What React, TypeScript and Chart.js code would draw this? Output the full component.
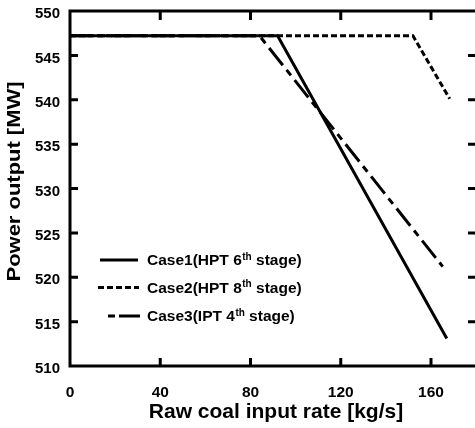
import React, { useEffect, useRef } from 'react';
import { Chart, registerables } from 'chart.js';

Chart.register(...registerables);

const FONT = '"Liberation Sans", Arial, Helvetica, sans-serif';

// Axis ranges and ticks
const xMin = 0;
const xMax = 179.5;
const yMin = 510;
const yMax = 550;
const xTickValues = [0, 40, 80, 120, 160];
const yTickValues = [510, 515, 520, 525, 530, 535, 540, 545, 550];

// Series (raw coal input rate [kg/s] -> power output [MW])
const case1X = [0, 92, 167];
const case1Y = [547.2, 547.2, 513.1];
const case2X = [0, 152, 168.3];
const case2Y = [547.2, 547.2, 540.1];
const case3X = [0, 84, 165.2];
const case3Y = [547.2, 547.2, 521.2];

// Legend text pieces (with superscript)
const seriesLabels = ['Case1(HPT 6th stage)', 'Case2(HPT 8th stage)', 'Case3(IPT 4th stage)'];
const legendMain = ['Case1(HPT 6', 'Case2(HPT 8', 'Case3(IPT 4'];
const legendSup = ['th', 'th', 'th'];
const legendTail = [' stage)', ' stage)', ' stage)'];

const xTitle = 'Raw coal input rate [kg/s]';
const yTitle = 'Power output [MW]';

const toPoints = (xs: number[], ys: number[]) => xs.map((x, i) => ({ x, y: ys[i] }));

const framePlugin = {
  id: 'framePlugin',
  afterDatasetsDraw(chart: any) {
    const { ctx, chartArea: a, scales } = chart;
    const xs = scales.x;
    const ys = scales.y;
    ctx.save();
    ctx.strokeStyle = '#000';
    ctx.lineWidth = 3;
    ctx.lineCap = 'butt';
    ctx.setLineDash([]);
    ctx.beginPath();
    ctx.moveTo(a.left, a.top - 1.5);
    ctx.lineTo(a.left, a.bottom + 1.5);
    ctx.moveTo(a.left - 1.5, a.top);
    ctx.lineTo(a.right + 2, a.top);
    ctx.moveTo(a.left - 1.5, a.bottom);
    ctx.lineTo(a.right + 2, a.bottom);
    ctx.stroke();

    ctx.beginPath();
    for (const v of yTickValues) {
      if (v === yMin || v === yMax) continue;
      const py = ys.getPixelForValue(v);
      ctx.moveTo(a.left, py);
      ctx.lineTo(a.left + 8, py);
      ctx.moveTo(a.right + 1, py);
      ctx.lineTo(a.right - 7, py);
    }
    for (const v of xTickValues) {
      if (v === xMin) continue;
      const px = xs.getPixelForValue(v);
      ctx.moveTo(px, a.bottom);
      ctx.lineTo(px, a.bottom - 8);
      ctx.moveTo(px, a.top);
      ctx.lineTo(px, a.top + 9);
    }
    ctx.stroke();

    // Legend
    const lineSpans = [
      [100, 138],
      [98, 139],
      [108, 140],
    ];
    const legendDashes: [number[], number][] = [
      [[], 0],
      [[6, 3], 0],
      [[22, 4, 7, 4], 26],
    ];
    const rowY = [260, 287.5, 316];
    const textX = 147;
    for (let i = 0; i < seriesLabels.length; i++) {
      const y = rowY[i];
      ctx.beginPath();
      ctx.setLineDash(legendDashes[i][0]);
      ctx.lineDashOffset = legendDashes[i][1];
      ctx.moveTo(lineSpans[i][0], y);
      ctx.lineTo(lineSpans[i][1], y);
      ctx.stroke();
      ctx.setLineDash([]);
      ctx.lineDashOffset = 0;

      ctx.fillStyle = '#000';
      ctx.textAlign = 'left';
      ctx.textBaseline = 'alphabetic';
      ctx.font = `bold 15.5px ${FONT}`;
      const base = y + 5.4;
      let x = textX;
      ctx.fillText(legendMain[i], x, base);
      x += ctx.measureText(legendMain[i]).width;
      ctx.font = `bold 10px ${FONT}`;
      ctx.fillText(legendSup[i], x + 0.5, base - 5.6);
      x += ctx.measureText(legendSup[i]).width + 0.5;
      ctx.font = `bold 15.5px ${FONT}`;
      ctx.fillText(legendTail[i], x, base);
    }

    // Axis titles
    ctx.fillStyle = '#000';
    ctx.font = `bold 21px ${FONT}`;
    ctx.textAlign = 'center';
    ctx.textBaseline = 'middle';
    ctx.fillText(xTitle, (a.left + a.right) / 2 + 3.5, 412);

    ctx.font = `bold 19px ${FONT}`;
    const w = ctx.measureText(yTitle).width;
    const sx = 200 / w;
    ctx.translate(15.2, (a.top + a.bottom) / 2 - 7);
    ctx.rotate(-Math.PI / 2);
    ctx.scale(sx, 1);
    ctx.fillText(yTitle, 0, 0);
    ctx.restore();
  },
};

export default function App() {
  const ref = useRef<HTMLCanvasElement>(null);
  useEffect(() => {
    const canvas = ref.current;
    if (!canvas) return;
    const tickFont = { family: FONT, size: 15.5, weight: 'bold' as const };
    const chart = new Chart(canvas, {
      type: 'line',
      data: {
        datasets: [
          {
            label: seriesLabels[0],
            data: toPoints(case1X, case1Y),
            borderColor: '#000',
            borderWidth: 3,
            pointRadius: 0,
            tension: 0,
            fill: false,
          },
          {
            label: seriesLabels[1],
            data: toPoints(case2X, case2Y),
            borderColor: '#000',
            borderWidth: 3,
            borderDash: [6, 3],
            pointRadius: 0,
            tension: 0,
            fill: false,
          },
          {
            label: seriesLabels[2],
            data: toPoints(case3X, case3Y),
            borderColor: '#000',
            borderWidth: 3,
            borderDash: [22, 6, 7, 6],
            pointRadius: 0,
            tension: 0,
            fill: false,
          },
        ],
      },
      options: {
        responsive: false,
        maintainAspectRatio: false,
        devicePixelRatio: 1,
        animation: false,
        layout: { padding: { top: 11, left: 0, right: 0, bottom: 0 } },
        plugins: {
          legend: { display: false },
          tooltip: { enabled: false },
          title: { display: false },
        },
        scales: {
          x: {
            type: 'linear',
            min: xMin,
            max: xMax,
            afterBuildTicks: (s: any) => {
              s.ticks = xTickValues.map((v) => ({ value: v }));
            },
            afterFit: (s: any) => {
              s.height = 62;
              s.paddingLeft = 0;
              s.paddingRight = 0;
            },
            grid: { display: false, drawTicks: false },
            border: { display: false },
            ticks: {
              color: '#000',
              font: tickFont,
              padding: 17,
              maxRotation: 0,
              autoSkip: false,
            },
          },
          y: {
            type: 'linear',
            min: yMin,
            max: yMax,
            afterBuildTicks: (s: any) => {
              s.ticks = yTickValues.map((v) => ({ value: v }));
            },
            afterFit: (s: any) => {
              s.width = 70;
              s.paddingTop = 0;
              s.paddingBottom = 0;
            },
            grid: { display: false, drawTicks: false },
            border: { display: false },
            ticks: {
              color: '#000',
              font: { family: FONT, size: 15, weight: 'bold' as const },
              padding: 10,
              labelOffset: 3,
              autoSkip: false,
            },
          },
        },
      },
      plugins: [framePlugin],
    });
    return () => chart.destroy();
  }, []);
  return (
    <div style={{ position: 'fixed', left: 0, top: 0, width: 475, height: 428, background: '#fff' }}>
      <canvas ref={ref} width={475} height={428} style={{ display: 'block', width: 475, height: 428 }} />
    </div>
  );
}
